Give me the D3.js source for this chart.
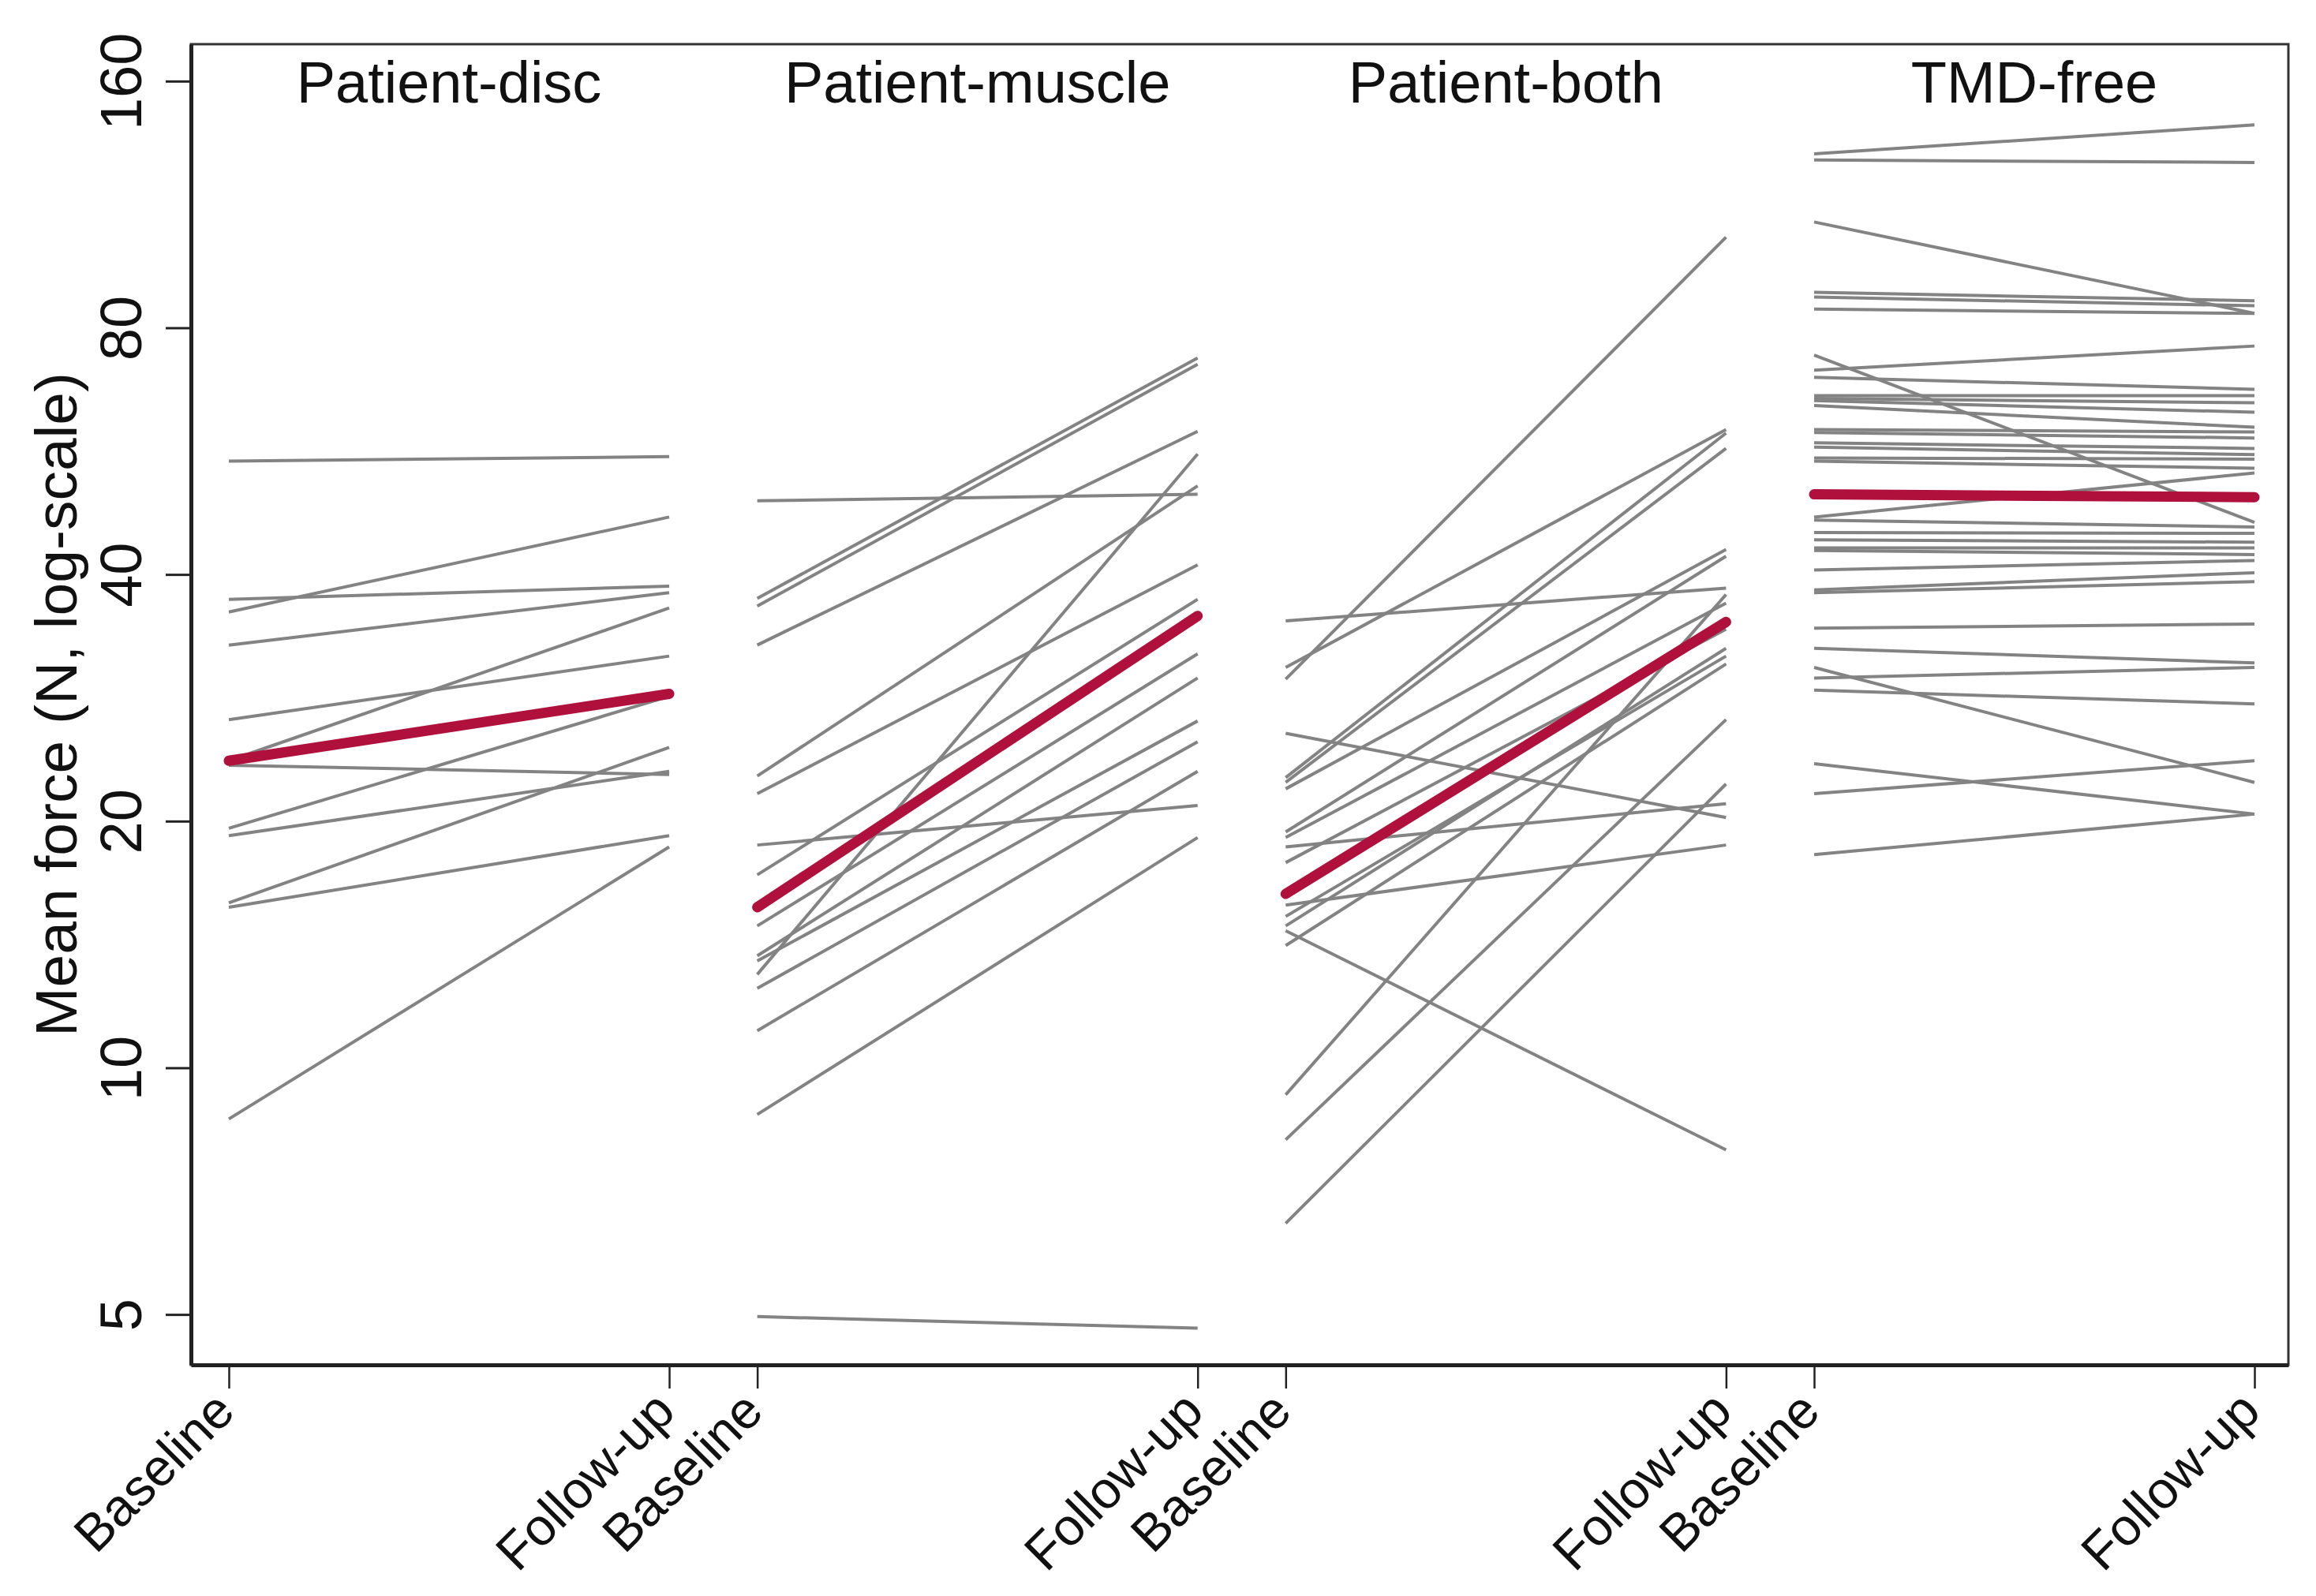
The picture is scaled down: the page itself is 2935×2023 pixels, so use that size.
<!DOCTYPE html>
<html>
<head>
<meta charset="utf-8">
<script src="https://cdn.jsdelivr.net/npm/d3@7"></script>
<style>
  body { margin: 0; background: #fff; }
  text { font-family: "Liberation Sans", Arial, Helvetica, sans-serif; fill: #111; }
</style>
</head>
<body>
<div id="sandbox"></div>
<script>
// panels and tick labels
var groups = ['Patient-disc', 'Patient-muscle', 'Patient-both', 'TMD-free'];
var timeLabels = ['Baseline', 'Follow-up'];
var yTicks = [5, 10, 20, 40, 80, 160];

// individual subjects, mean force (N), baseline and follow-up
var discBaseline   = [55.0, 36.0, 37.3, 32.8, 26.6, 23.7, 23.4, 19.6, 19.2, 15.9, 15.7, 8.66];
var discFollowup   = [55.7, 47.0, 38.7, 38.0, 31.8, 36.4, 22.8, 28.4, 23.0, 24.6, 19.2, 18.6];

var muscleBaseline = [49.2, 37.4, 36.6, 32.8, 22.7, 21.6, 18.7, 17.2, 14.9, 13.7, 13.5, 13.0, 12.5, 11.1, 8.77, 4.97];
var muscleFollowup = [50.1, 73.5, 72.2, 59.8, 51.3, 41.1, 20.9, 37.3, 32.0, 29.9, 26.5, 56.1, 25.0, 23.0, 19.1, 4.81];

var bothBaseline   = [35.1, 30.8, 29.8, 25.6, 22.6, 22.3, 21.9, 19.4, 19.1, 18.6, 17.8, 15.8, 15.3, 14.9, 14.7, 14.1, 9.27, 8.17, 6.46];
var bothFollowup   = [38.5, 60.1, 103.2, 20.2, 59.5, 57.0, 42.9, 42.1, 36.9, 21.0, 34.3, 18.7, 31.8, 32.5, 7.94, 31.1, 37.8, 26.6, 22.2];

var freeBaseline   = [130.4, 128.2, 107.7, 88.4, 87.2, 84.3, 71.0, 74.1, 69.6, 66.1, 65.6, 65.2, 64.3, 60.1, 59.6, 57.9, 57.2, 55.5,
                      55.0, 47.0, 46.6, 45.0, 44.1, 43.1, 42.8, 40.5, 38.3, 38.0, 34.4, 32.5, 30.8, 29.9, 28.9, 23.5, 21.6, 18.2];
var freeFollowup   = [141.5, 127.3, 83.3, 86.3, 85.1, 83.3, 76.0, 46.3, 67.3, 66.1, 64.8, 63.1, 60.5, 59.7, 58.7, 57.0, 56.0, 55.3,
                      53.9, 53.2, 45.7, 44.9, 43.8, 43.1, 42.3, 41.6, 40.2, 39.2, 34.8, 31.2, 22.3, 30.8, 27.8, 20.4, 23.7, 20.4];

// group means
var meanBaseline = [23.7, 15.7, 16.3, 50.1];
var meanFollowup = [28.6, 35.6, 35.0, 49.7];

var width = 2935;
var height = 2023;
var plotLeft = 242, plotRight = 2900, plotTop = 56, plotBottom = 1730;
var groupStep = 1.2;

var subjects = [
    [discBaseline, discFollowup],
    [muscleBaseline, muscleFollowup],
    [bothBaseline, bothFollowup],
    [freeBaseline, freeFollowup]
];

var svg = d3.select('#sandbox').append('svg')
    .attr('width', width)
    .attr('height', height)
    .style('display', 'block');

svg.append('rect').attr('width', width).attr('height', height).attr('fill', '#fff');

var x = d3.scaleLinear()
    .domain([-0.086, 3 * groupStep + 1.077])
    .range([plotLeft, plotRight]);

var y = d3.scaleLog()
    .domain([4.34, 177.5])
    .range([plotBottom, plotTop]);

// x positions of the 8 time points
var xTicks = [];
groups.forEach(function(g, i) {
    xTicks.push(i * groupStep, i * groupStep + 1);
});

var line = d3.line()
    .x(function(d) { return x(d[0]); })
    .y(function(d) { return y(d[1]); });

// gray subject lines
subjects.forEach(function(s, gi) {
    var x0 = gi * groupStep;
    var pairs = s[0].map(function(b, i) { return [[x0, b], [x0 + 1, s[1][i]]]; });
    svg.append('g').selectAll('path')
        .data(pairs)
      .enter().append('path')
        .attr('d', line)
        .attr('fill', 'none')
        .attr('stroke', '#838383')
        .attr('stroke-width', 4);
});

// red mean lines
svg.append('g').selectAll('path')
    .data(groups.map(function(g, i) {
        return [[i * groupStep, meanBaseline[i]], [i * groupStep + 1, meanFollowup[i]]];
    }))
  .enter().append('path')
    .attr('d', line)
    .attr('fill', 'none')
    .attr('stroke', '#b0103c')
    .attr('stroke-width', 13)
    .attr('stroke-linecap', 'round');

// frame
svg.append('rect')
    .attr('x', plotLeft).attr('y', plotTop)
    .attr('width', plotRight - plotLeft).attr('height', plotBottom - plotTop)
    .attr('fill', 'none')
    .attr('stroke', '#333')
    .attr('stroke-width', 3);

// panel titles
svg.selectAll('.title')
    .data(groups)
  .enter().append('text')
    .attr('class', 'title')
    .attr('x', function(d, i) { return x(i * groupStep + 0.5); })
    .attr('y', 130)
    .attr('text-anchor', 'middle')
    .style('font-size', '74px')
    .text(function(d) { return d; });

// y axis
var yAxis = svg.append('g')
    .attr('transform', 'translate(' + plotLeft + ',0)')
    .call(d3.axisLeft(y).tickValues(yTicks).tickSize(32).tickSizeOuter(0).tickFormat(d3.format('d')));
yAxis.select('.domain').attr('stroke', '#222').attr('stroke-width', 5);
yAxis.selectAll('.tick line').attr('stroke', '#222').attr('stroke-width', 3);
yAxis.selectAll('.tick text')
    .attr('x', null).attr('dy', null)
    .attr('transform', 'translate(-63,0) rotate(-90)')
    .attr('text-anchor', 'middle')
    .style('font-size', '74px')
    .style('font-family', '"Liberation Sans", Arial, sans-serif')
    .attr('fill', '#111');

svg.append('text')
    .attr('transform', 'translate(97,' + ((plotTop + plotBottom) / 2) + ') rotate(-90)')
    .attr('text-anchor', 'middle')
    .style('font-size', '75px')
    .text('Mean force (N, log-scale)');

// x axis
var xAxis = svg.append('g')
    .attr('transform', 'translate(0,' + plotBottom + ')')
    .call(d3.axisBottom(x).tickValues(xTicks).tickSize(30).tickSizeOuter(0)
        .tickFormat(function(d, i) { return timeLabels[i % 2]; }));
xAxis.select('.domain').attr('stroke', '#222').attr('stroke-width', 5);
xAxis.selectAll('.tick line').attr('stroke', '#222').attr('stroke-width', 2.5);
xAxis.selectAll('.tick text')
    .attr('y', null).attr('dy', null)
    .attr('transform', 'translate(10,62) rotate(-45)')
    .attr('text-anchor', 'end')
    .style('font-size', '66px')
    .style('font-family', '"Liberation Sans", Arial, sans-serif')
    .attr('fill', '#111');
</script>
</body>
</html>
